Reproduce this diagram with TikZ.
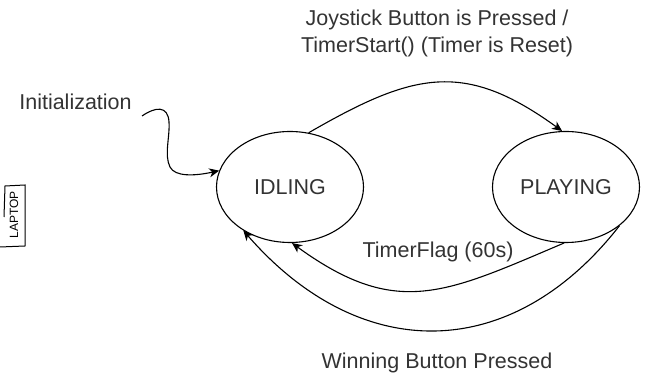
\documentclass[tikz,border=0pt]{standalone}
\usepackage{fontspec}
\setmainfont{Liberation Sans}
\usetikzlibrary{shapes.geometric, arrows.meta}

\begin{document}
\begin{tikzpicture}[x=1pt, y=1pt,
    state/.style={draw, ellipse, line width=1.1pt, minimum width=147pt, minimum height=111pt, inner sep=0pt, text=black!80},
    lbl/.style={text=black!80, inner sep=0pt},
    arr/.style={line width=1.1pt, -{Stealth[length=10pt, width=9pt, inset=3pt]}},
    font=\fontsize{21.5}{27}\selectfont]
  \useasboundingbox (0,0) rectangle (649,377);
  \node[state] (idle) at (290,190) {IDLING};
  \node[state] (play) at (566,190) {PLAYING};
  \node[lbl] (init) at (75.5,275) {Initialization};
  \node[lbl, align=center] (top) at (437,343.5) {Joystick Button is Pressed /\\TimerStart() (Timer is Reset)};
  \node[lbl] (flag) at (438,125) {TimerFlag (60s)};
  \node[lbl] (win) at (437,14) {Winning Button Pressed};
  \coordinate (sq) at (142,261);
  \draw[arr] (sq) .. controls (155,270) and (168,272) .. (169,255) .. controls (170,240) and (164,222) .. (170,210) .. controls (175,200) and (195,201) .. (idle.167);
  \draw[arr] (idle.71) to[out=30, in=144, looseness=1.22] (play.94);
  \draw[arr] (play.268) to[out=203, in=-36, looseness=1.22] (idle.272);
  \draw[arr] (play.-36) to[out=232, in=-49, looseness=1.2] (idle.223);
  % scrap of paper at the left edge
  \draw[line width=1pt] (0,130) -- (25,131) -- (25,192) -- (5,191) -- (4,160);
  \node[inner sep=0pt, rotate=90, font=\fontsize{12}{12}\selectfont] (scrap) at (14,162) {LAPTOP};
\end{tikzpicture}
\end{document}
